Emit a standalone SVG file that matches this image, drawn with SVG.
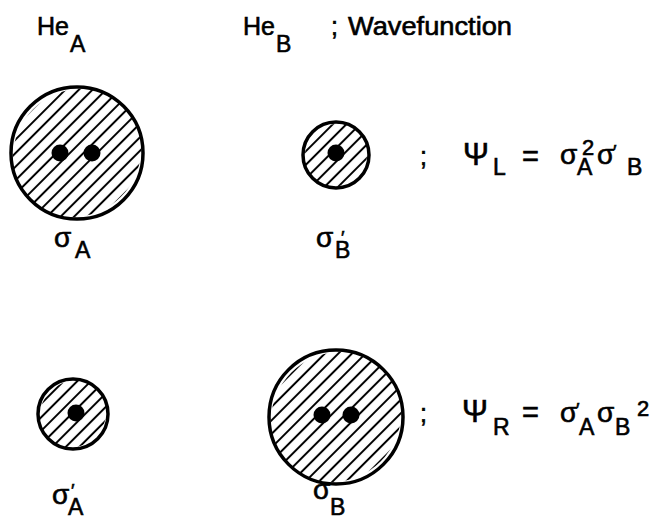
<svg xmlns="http://www.w3.org/2000/svg" width="659" height="520" viewBox="0 0 659 520">
<style>
  text { font-family: "Liberation Sans", Arial, Helvetica, sans-serif; fill: #000; stroke: #000; stroke-width: 0.6; font-size: 25px; }
  .s { font-size: 23px; }
  .sg { font-size: 28px; }
  .sup { font-size: 22px; }
  .psi { font-size: 31px; }
  .eq { font-size: 29px; }
  .pr { font-size: 19px; }
  .bg { fill: #fff; }
  .ht { fill: url(#hatch); }
  .rim { fill: none; stroke: #000; stroke-width: 3.5; }
  .e { fill: #000; }
</style>
<defs>
  <!-- hatched ellipses are rotated 45deg, so vertical pattern lines appear as "/" -->
  <pattern id="hatch" patternUnits="userSpaceOnUse" width="9.6" height="10">
    <line x1="4.8" y1="-1" x2="4.8" y2="11" stroke="#000" stroke-width="2"/>
  </pattern>
</defs>
<rect width="659" height="520" fill="#fff"/>

<g id="header">
  <text x="37" y="35">He<tspan class="s" x="70" y="52">A</tspan></text>
  <text x="243" y="35">He<tspan class="s" x="276" y="52">B</tspan></text>
  <text x="331" y="35">;</text>
  <text x="348" y="35" textLength="164" lengthAdjust="spacingAndGlyphs">Wavefunction</text>
</g>

<g id="sigmaA">
  <circle class="bg" cx="77" cy="153" r="66"/>
  <ellipse class="ht" cx="77" cy="153" rx="62" ry="66" transform="rotate(45 77 153)"/>
  <circle class="rim" cx="77" cy="153" r="66"/>
  <circle class="e" cx="60" cy="153" r="8.5"/>
  <circle class="e" cx="92" cy="153" r="8.5"/>
  <text x="54" y="247"><tspan class="sg">σ</tspan><tspan class="s" x="75" y="258">A</tspan></text>
</g>

<g id="sigmaBprime">
  <circle class="bg" cx="336" cy="155" r="33"/>
  <ellipse class="ht" cx="336" cy="155" rx="30" ry="33" transform="rotate(45 336 155)"/>
  <circle class="rim" cx="336" cy="155" r="33"/>
  <circle class="e" cx="336" cy="153" r="8.5"/>
  <text x="316" y="247"><tspan class="sg">σ</tspan><tspan class="pr" x="341" y="244">′</tspan><tspan class="s" x="335" y="258">B</tspan></text>
</g>

<g id="psiL">
  <text x="420" y="165">;</text>
  <text x="463" y="165"><tspan class="psi">Ψ</tspan><tspan class="s" x="493" y="175">L</tspan></text>
  <text class="eq" x="522" y="166">=</text>
  <text x="560" y="164"><tspan class="sg">σ</tspan><tspan class="sup" x="582" y="155">2</tspan><tspan class="s" x="577" y="175">A</tspan></text>
  <text x="597" y="164"><tspan class="sg">σ</tspan><tspan class="pr" x="613" y="158">′</tspan><tspan class="s" x="627" y="175">B</tspan></text>
</g>

<g id="sigmaAprime">
  <circle class="bg" cx="73" cy="414" r="35"/>
  <ellipse class="ht" cx="73" cy="414" rx="32" ry="35" transform="rotate(45 73 414)"/>
  <circle class="rim" cx="73" cy="414" r="35"/>
  <circle class="e" cx="76" cy="413" r="8.5"/>
  <text x="52" y="504"><tspan class="sg">σ</tspan><tspan class="pr" x="71" y="497">′</tspan><tspan class="s" x="68" y="515">A</tspan></text>
</g>

<g id="sigmaB">
  <circle class="bg" cx="336" cy="417" r="67"/>
  <ellipse class="ht" cx="336" cy="417" rx="63" ry="67" transform="rotate(45 336 417)"/>
  <circle class="rim" cx="336" cy="417" r="67"/>
  <circle class="e" cx="322" cy="415" r="8.5"/>
  <circle class="e" cx="351" cy="415" r="8.5"/>
  <text x="313" y="499"><tspan class="sg">σ</tspan><tspan class="s" x="330" y="515">B</tspan></text>
</g>

<g id="psiR">
  <text x="420" y="422">;</text>
  <text x="462" y="422"><tspan class="psi">Ψ</tspan><tspan class="s" x="493" y="435">R</tspan></text>
  <text class="eq" x="522" y="422">=</text>
  <text x="560" y="422"><tspan class="sg">σ</tspan><tspan class="pr" x="576" y="416">′</tspan><tspan class="s" x="579" y="435">A</tspan></text>
  <text x="597" y="422"><tspan class="sg">σ</tspan><tspan class="s" x="615" y="435">B</tspan><tspan class="sup" x="637" y="416">2</tspan></text>
</g>

<g id="connectors"/>
</svg>
